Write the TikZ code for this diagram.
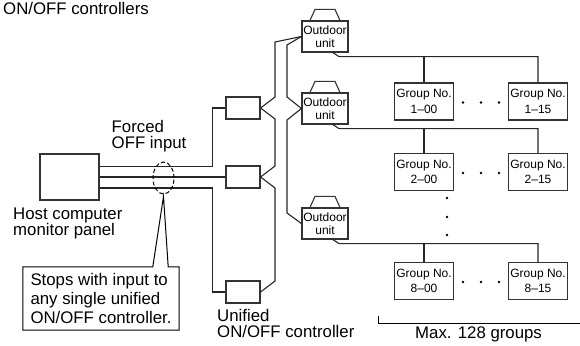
\documentclass[tikz,border=0pt]{standalone}
\usepackage{fontspec}
\setmainfont{Liberation Sans}
\usetikzlibrary{shapes.geometric,calc}

\begin{document}
\begin{tikzpicture}[x=1pt, y=-1pt, line join=miter,
    every node/.style={font=\fontsize{16.8}{16}\selectfont, inner sep=0pt},
    wire/.style={line width=1.1pt, black!85},
    unitbox/.style={draw, line width=1.2pt, black!80, text=black, minimum width=46pt, minimum height=31pt, align=center, font=\fontsize{12}{12.5}\selectfont},
    grpbox/.style={draw, line width=1.2pt, black!80, text=black, minimum width=59pt, minimum height=37pt, align=center, font=\fontsize{12}{15.5}\selectfont},
    ctrlbox/.style={draw, line width=1.2pt, black!80, minimum width=34pt, minimum height=22pt},
    lbl/.style={anchor=base west, align=left}]
  \useasboundingbox (0,0) rectangle (580,345);

  % host and its three lines
  \node[draw, line width=1.2pt, black!80, minimum width=59pt, minimum height=46pt] (host) at (69.5,177) {};
  \node[ctrlbox] (ctrlA) at (243,108) {};
  \node[ctrlbox] (ctrlB) at (243,177) {};
  \node[ctrlbox] (ctrlC) at (243,292) {};
  \draw[wire] ([yshift=10.5pt]host.east) -| ([xshift=-13pt]ctrlA.west) -- (ctrlA.west);
  \draw[wire] (host.east) -- (ctrlB.west);
  \draw[wire] ([yshift=-11pt]host.east) -| ([xshift=-13pt]ctrlC.west) -- (ctrlC.west);
  \node[draw, dashed, dash pattern=on 4pt off 2.5pt, ellipse, line width=1pt, minimum width=21pt, minimum height=32pt] (tap) at (163.5,178) {};
  \coordinate (tip) at ([yshift=-2pt]tap.south);

  % outdoor units
  \node[unitbox] (odu1) at (325,36.5) {Outdoor\\unit};
  \node[unitbox] (odu2) at (325,108.5) {Outdoor\\unit};
  \node[unitbox] (odu3) at (325,223.5) {Outdoor\\unit};
  \foreach \u in {1,2,3}
    \draw[line width=1.1pt, black!80] ([xshift=-15pt]odu\u.north) -- ++(5,-11) -- ++(20,0) -- ++(5,11);

  % controller wiring
  \draw[wire] (odu1.west) -- (275,42) -- (275,97) -- (ctrlA.east) -- (275,119) -- (275,166)
    -- (ctrlB.east) -- (275,188) -- (275,281) -- (ctrlC.east);
  \draw[wire] (odu1.west) -- (287,45) -- (287,97) -- (odu2.west) -- (287,120) -- (287,213) -- (odu3.west);

  % groups
  \node[grpbox] (g100) at (424,101.5) {Group No.\\1–00};
  \node[grpbox] (g115) at (538,101.5) {Group No.\\1–15};
  \node[grpbox] (g200) at (424,172) {Group No.\\2–00};
  \node[grpbox] (g215) at (538,172) {Group No.\\2–15};
  \node[grpbox] (g800) at (424,281) {Group No.\\8–00};
  \node[grpbox] (g815) at (538,281) {Group No.\\8–15};
  \foreach \u/\g in {1/1,2/2,3/8} {
    \draw[wire] ([xshift=8pt]odu\u.south) -- ++(6,4) coordinate (bus\u) -| (g\g15.north);
    \draw[wire] (bus\u -| g\g00.north) -- (g\g00.north);
    \foreach \dx in {-18,0,18}
      \fill ($(g\g00.east)!0.5!(g\g15.west)+(\dx,1)$) circle (1.3);
  }
  \foreach \y in {198,217,235}
    \fill (447,\y) circle (1.3);
  \draw[line width=1pt] (378,316) |- (580,323);

  % callout
  \node[minimum width=156pt, minimum height=63pt, align=left, font=\fontsize{16.8}{19}\selectfont] (note) at (101,298.5)
    {Stops with input to\\any single unified\\ON/OFF controller.};
  \draw[line width=1pt] (note.north west) -- ([xshift=130pt]note.north west) -- (tip)
    -- ([xshift=-11pt]note.north east) -- (note.north east) -- (note.south east) -- (note.south west) -- cycle;

  % labels
  \node[lbl] (title) at (3,15) {ON/OFF controllers};
  \node[lbl] (forced) at (111.5,148) {Forced\\OFF input};
  \node[lbl] (hostlbl) at (13,235) {Host computer\\monitor panel};
  \node[lbl] (unilbl) at (217,337) {Unified\\ON/OFF controller};
  \node[lbl] (maxlbl) at (415,338) {Max. 128 groups};
\end{tikzpicture}
\end{document}
